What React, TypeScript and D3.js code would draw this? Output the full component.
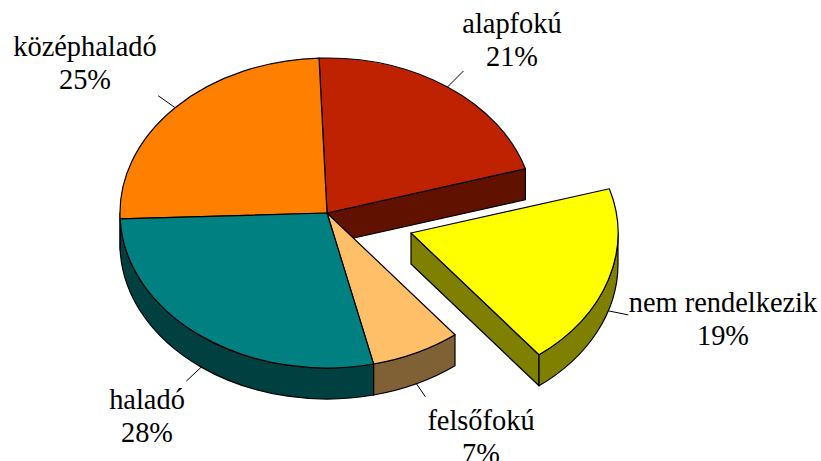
import React from "react";
import * as d3 from "d3";

const labels = ["alapfokú", "nem rendelkezik", "felsőfokú", "haladó", "középhaladó"];
const values = [21, 19, 7, 28, 25];
const topColors = ["#BF2200", "#FFFF00", "#FFBF69", "#008080", "#FF8000"];
const sideColors = ["#601100", "#808000", "#806035", "#004040", "#804000"];
const exploded = [0, 1, 0, 0, 0];

const W = 821, H = 461;
const cx = 327, cy = 213, rx = 207, ry = 155, depth = 31;
const explodeX = 84, explodeY = 20;
const startDeg = -2.2;
// label text centre / first baseline, leader end offset
const labelPos = [
  { x: 512, y: 33, lx: 16, ly: -16 },
  { x: 723, y: 312, lx: 20, ly: 4 },
  { x: 481, y: 430, lx: 9, ly: 13 },
  { x: 147, y: 409, lx: -15, ly: 14 },
  { x: 85, y: 56, lx: -17, ly: -12 },
];

const rad = (d: number) => (d * Math.PI) / 180;
const pie = d3.pie<number>().sort(null).startAngle(rad(startDeg)).endAngle(rad(startDeg + 360));
const arcs = pie(values);

const pt = (ox: number, oy: number, t: number): [number, number] => [
  ox + rx * Math.sin(t),
  oy - ry * Math.cos(t),
];

function topPath(ox: number, oy: number, a0: number, a1: number) {
  const [x0, y0] = pt(ox, oy, a0);
  const [x1, y1] = pt(ox, oy, a1);
  const large = a1 - a0 > Math.PI ? 1 : 0;
  return `M${ox},${oy}L${x0},${y0}A${rx},${ry} 0 ${large} 1 ${x1},${y1}Z`;
}

function wallPath(ox: number, oy: number, a0: number, a1: number) {
  const [x0, y0] = pt(ox, oy, a0);
  const [x1, y1] = pt(ox, oy, a1);
  return `M${x0},${y0}A${rx},${ry} 0 0 1 ${x1},${y1}L${x1},${y1 + depth}A${rx},${ry} 0 0 0 ${x0},${y0 + depth}Z`;
}

function cutPath(ox: number, oy: number, a: number) {
  const [x, y] = pt(ox, oy, a);
  return `M${ox},${oy}L${x},${y}L${x},${y + depth}L${ox},${oy + depth}Z`;
}

const S = "#000";
const SW = 1.2;

type Slice = { i: number; a0: number; a1: number; ox: number; oy: number };

const slices: Slice[] = arcs.map((a, i) => ({
  i,
  a0: a.startAngle,
  a1: a.endAngle,
  ox: cx + exploded[i] * explodeX,
  oy: cy + exploded[i] * explodeY,
}));

// back-to-front: slices facing away first, the exploded slice last
const order = [0, 4, 2, 3, 1];

export default function App() {
  return (
    <svg
      width={W}
      height={H}
      viewBox={`0 0 ${W} ${H}`}
      style={{ position: "absolute", left: 0, top: 0, display: "block", background: "#fff" }}
      fontFamily="'Liberation Serif', serif"
      fontSize={28.4}
    >
      {order.map((idx) => {
        const s = slices[idx];
        const vis0 = Math.max(s.a0, Math.PI / 2);
        const vis1 = Math.min(s.a1, (3 * Math.PI) / 2);
        const endFaces = s.a1 < Math.PI;
        return (
          <g key={labels[idx]} stroke={S} strokeWidth={SW} strokeLinejoin="round">
            {endFaces && <path d={cutPath(s.ox, s.oy, s.a1)} fill={sideColors[idx]} />}
            {vis1 > vis0 && <path d={wallPath(s.ox, s.oy, vis0, vis1)} fill={sideColors[idx]} />}
          </g>
        );
      })}
      {order.map((idx) => {
        const s = slices[idx];
        return (
          <path
            key={labels[idx] + "-top"}
            d={topPath(s.ox, s.oy, s.a0, s.a1)}
            fill={topColors[idx]}
            stroke={S}
            strokeWidth={SW}
            strokeLinejoin="round"
          />
        );
      })}
      {slices.map((s) => {
        const mid = (s.a0 + s.a1) / 2;
        const [mx, my0] = pt(s.ox, s.oy, mid);
        const my = Math.cos(mid) < 0 ? my0 + depth : my0;
        const lp = labelPos[s.i];
        return (
          <g key={labels[s.i] + "-label"}>
            <line x1={mx} y1={my} x2={mx + lp.lx} y2={my + lp.ly} stroke={S} strokeWidth={1} />
            <text x={lp.x} y={lp.y} textAnchor="middle" fill="#000">
              {labels[s.i]}
            </text>
            <text x={lp.x} y={lp.y + 33} textAnchor="middle" fill="#000">
              {d3.format("d")(values[s.i])}%
            </text>
          </g>
        );
      })}
    </svg>
  );
}
